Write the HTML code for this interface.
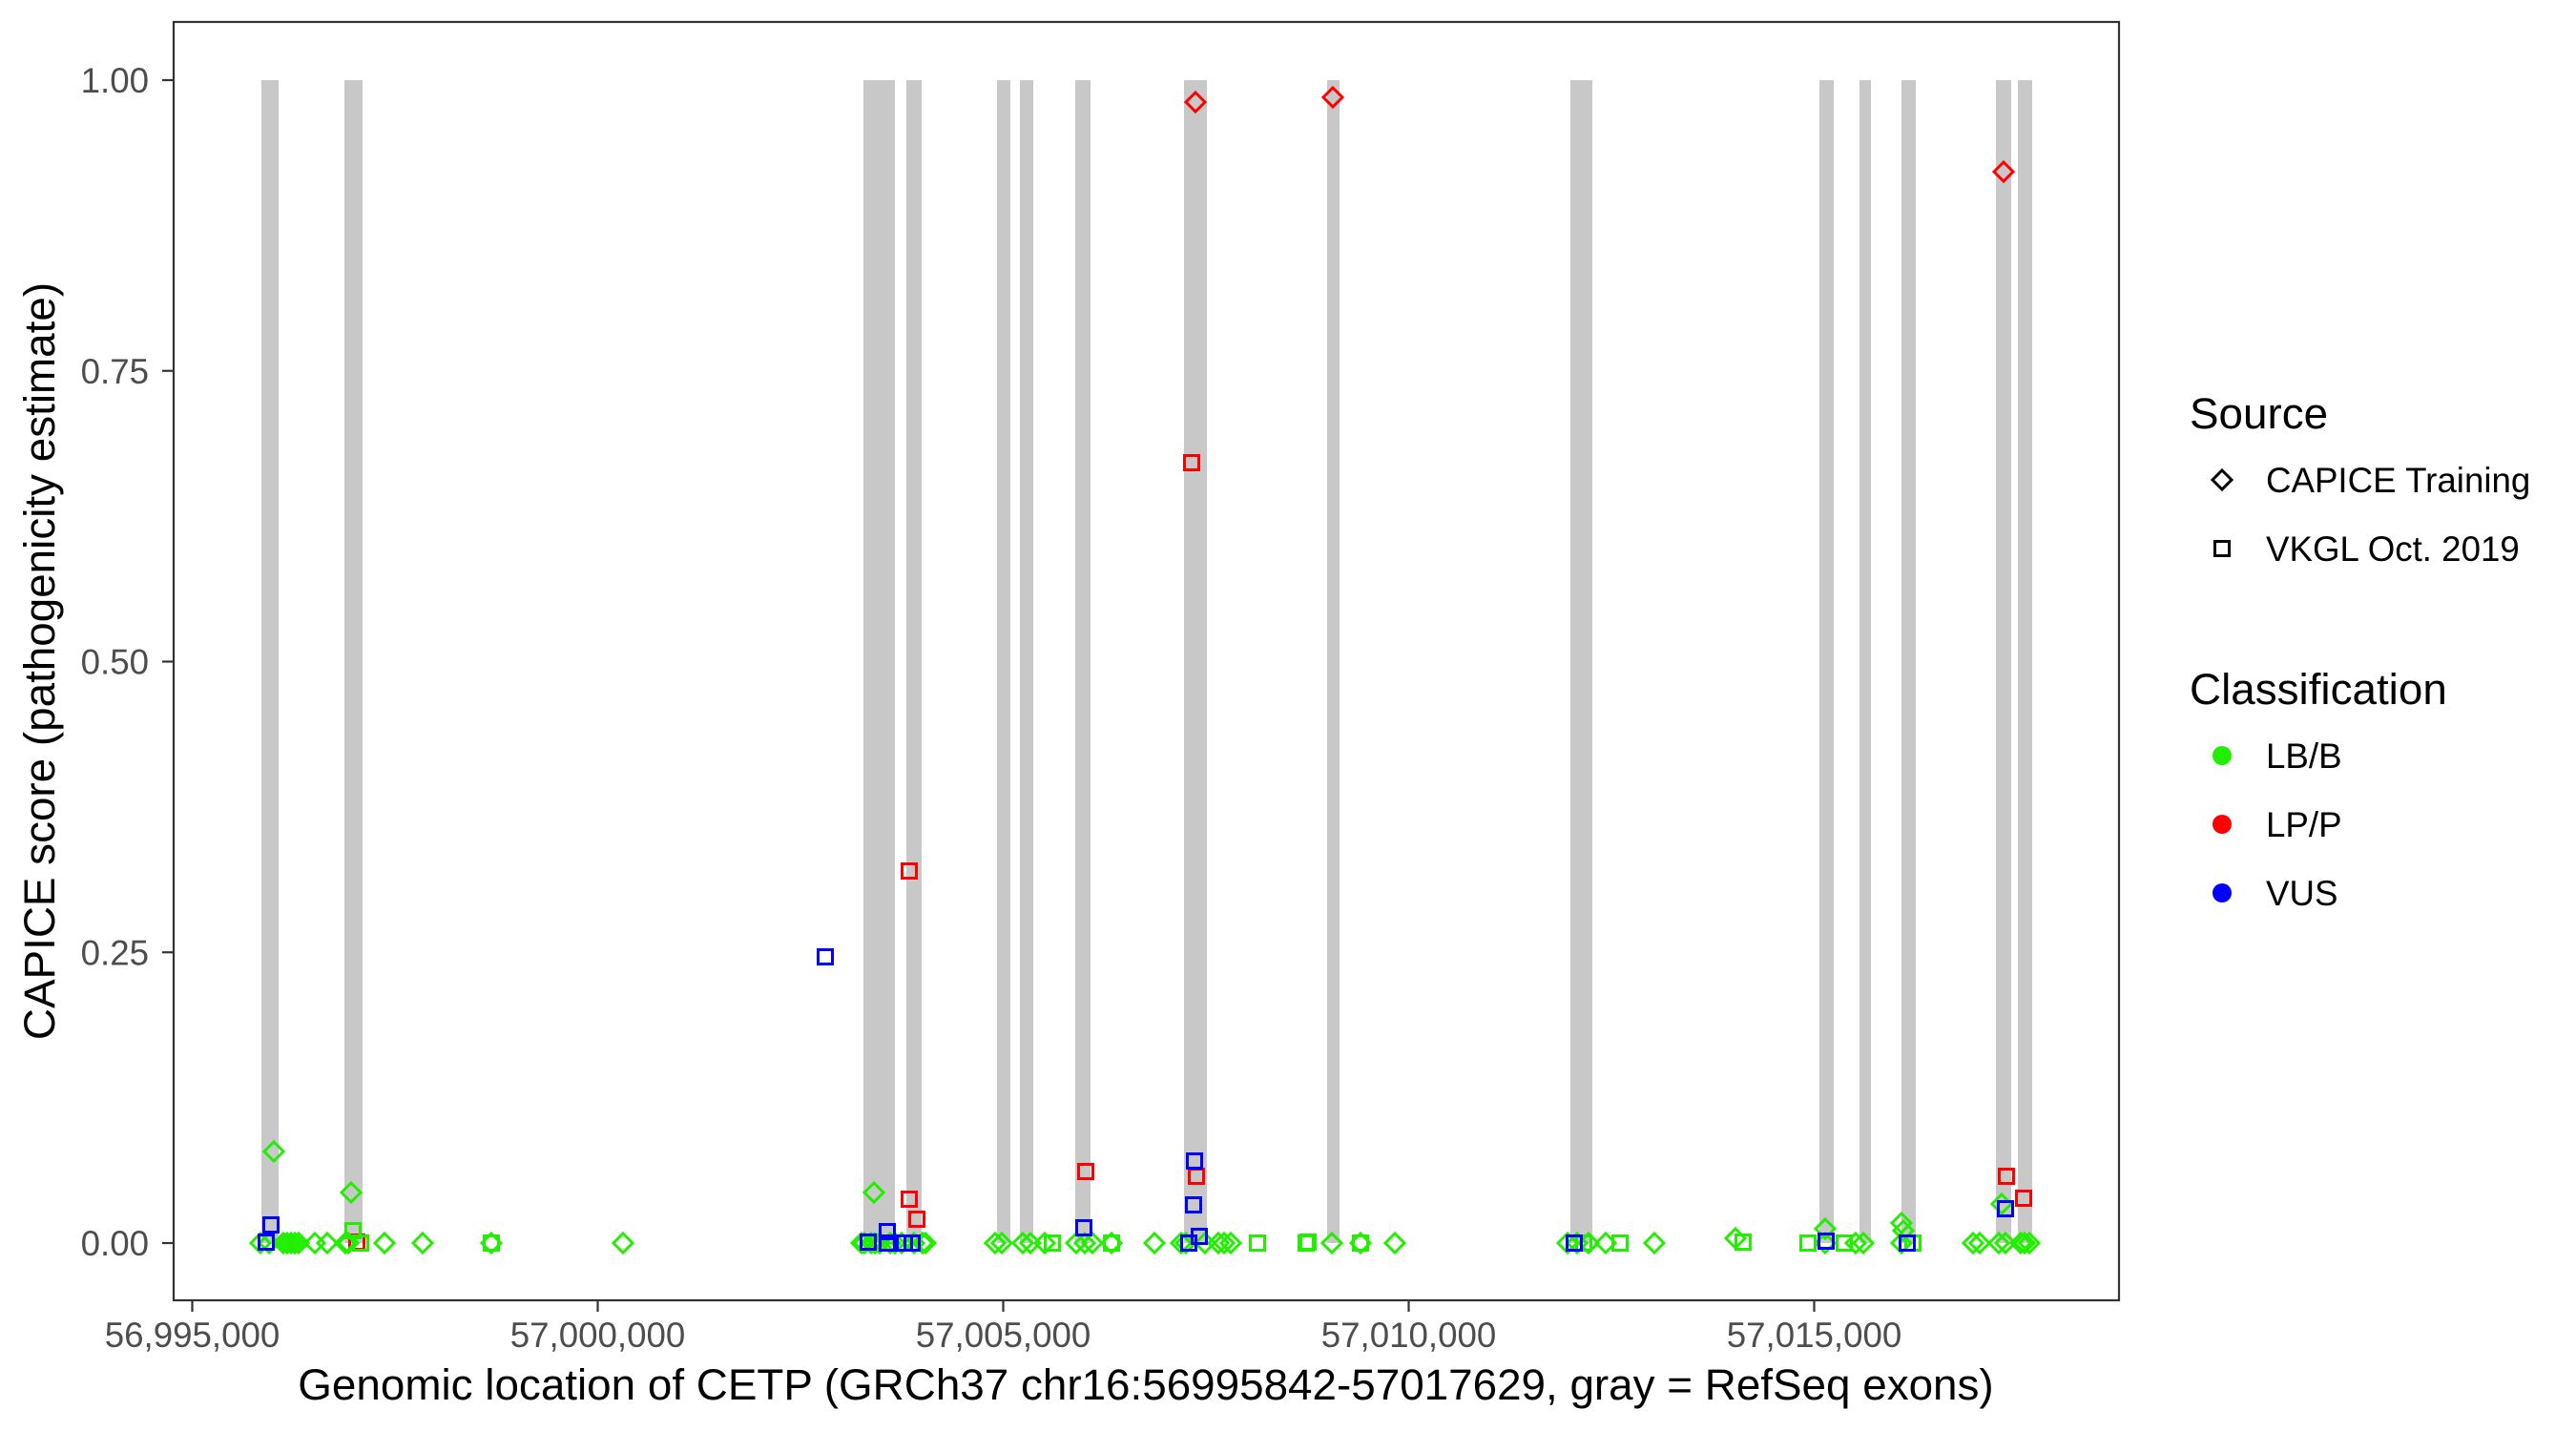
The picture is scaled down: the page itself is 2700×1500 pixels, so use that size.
<!DOCTYPE html>
<html>
<head>
<meta charset="utf-8">
<style>
  html,body{margin:0;padding:0;background:#ffffff;}
  svg{display:block;}
  text{font-family:"Liberation Sans", Arial, sans-serif;}
</style>
</head>
<body>
<svg xmlns="http://www.w3.org/2000/svg" width="2700" height="1500" viewBox="0 0 2700 1500">
  <defs>
    <path id="dm" d="M0,-10 L10,0 L0,10 L-10,0 Z" fill="none" stroke-width="3"/>
    <rect id="sq" x="-7.5" y="-7.5" width="15" height="15" fill="none" stroke-width="3"/>
  </defs>
  <rect x="0" y="0" width="2700" height="1500" fill="#ffffff"/>

  <g fill="#c8c8c8">
    <rect x="274" y="84" width="18" height="1219"/>
    <rect x="361" y="84" width="19" height="1219"/>
    <rect x="905" y="84" width="33" height="1219"/>
    <rect x="950" y="84" width="16" height="1219"/>
    <rect x="1045" y="84" width="14" height="1219"/>
    <rect x="1069" y="84" width="14" height="1219"/>
    <rect x="1127" y="84" width="16" height="1219"/>
    <rect x="1241" y="84" width="24" height="1219"/>
    <rect x="1391" y="84" width="13" height="1219"/>
    <rect x="1646" y="84" width="23" height="1219"/>
    <rect x="1907" y="84" width="15" height="1219"/>
    <rect x="1949" y="84" width="12" height="1219"/>
    <rect x="1993" y="84" width="15" height="1219"/>
    <rect x="2092" y="84" width="16" height="1219"/>
    <rect x="2115" y="84" width="15" height="1219"/>
  </g>

  <g stroke="#ff0000">
    <use href="#sq" x="374" y="1302"/>
  </g>

  <g stroke="#22ee00">
    <use href="#dm" x="287" y="1207"/>
    <use href="#dm" x="368" y="1250"/>
    <use href="#dm" x="273" y="1303"/>
    <use href="#dm" x="282" y="1303"/>
    <use href="#dm" x="297" y="1303"/>
    <use href="#dm" x="301" y="1303"/>
    <use href="#dm" x="305" y="1303"/>
    <use href="#dm" x="309" y="1303"/>
    <use href="#dm" x="313" y="1303"/>
    <use href="#dm" x="330" y="1303"/>
    <use href="#dm" x="343" y="1303"/>
    <use href="#dm" x="362" y="1303"/>
    <use href="#dm" x="365" y="1303"/>
    <use href="#dm" x="403" y="1303"/>
    <use href="#dm" x="443" y="1303"/>
    <use href="#dm" x="515" y="1303"/>
    <use href="#dm" x="653" y="1303"/>
    <use href="#dm" x="916" y="1250"/>
    <use href="#dm" x="903" y="1303"/>
    <use href="#dm" x="906" y="1303"/>
    <use href="#dm" x="913" y="1303"/>
    <use href="#dm" x="917" y="1303"/>
    <use href="#dm" x="922" y="1303"/>
    <use href="#dm" x="933" y="1303"/>
    <use href="#dm" x="938" y="1303"/>
    <use href="#dm" x="945" y="1303"/>
    <use href="#dm" x="958" y="1303"/>
    <use href="#dm" x="967" y="1303"/>
    <use href="#dm" x="970" y="1303"/>
    <use href="#dm" x="1043" y="1303"/>
    <use href="#dm" x="1050" y="1303"/>
    <use href="#dm" x="1072" y="1303"/>
    <use href="#dm" x="1080" y="1303"/>
    <use href="#dm" x="1095" y="1303"/>
    <use href="#dm" x="1128" y="1303"/>
    <use href="#dm" x="1137" y="1303"/>
    <use href="#dm" x="1145" y="1303"/>
    <use href="#dm" x="1165" y="1303"/>
    <use href="#dm" x="1210" y="1303"/>
    <use href="#dm" x="1238" y="1303"/>
    <use href="#dm" x="1243" y="1303"/>
    <use href="#dm" x="1263" y="1303"/>
    <use href="#dm" x="1277" y="1303"/>
    <use href="#dm" x="1283" y="1303"/>
    <use href="#dm" x="1290" y="1303"/>
    <use href="#dm" x="1396" y="1303"/>
    <use href="#dm" x="1426" y="1303"/>
    <use href="#dm" x="1462" y="1303"/>
    <use href="#dm" x="1643" y="1303"/>
    <use href="#dm" x="1653" y="1303"/>
    <use href="#dm" x="1665" y="1303"/>
    <use href="#dm" x="1683" y="1303"/>
    <use href="#dm" x="1734" y="1303"/>
    <use href="#dm" x="1819" y="1298"/>
    <use href="#dm" x="1913" y="1288"/>
    <use href="#dm" x="1913" y="1303"/>
    <use href="#dm" x="1945" y="1303"/>
    <use href="#dm" x="1953" y="1303"/>
    <use href="#dm" x="1993" y="1282"/>
    <use href="#dm" x="1995" y="1290"/>
    <use href="#dm" x="1993" y="1303"/>
    <use href="#dm" x="2068" y="1303"/>
    <use href="#dm" x="2075" y="1303"/>
    <use href="#dm" x="2095" y="1303"/>
    <use href="#dm" x="2102" y="1303"/>
    <use href="#dm" x="2118" y="1303"/>
    <use href="#dm" x="2122" y="1303"/>
    <use href="#dm" x="2127" y="1303"/>
    <use href="#dm" x="2098" y="1262"/>
  </g>

  <g stroke="#22ee00">
    <use href="#sq" x="370" y="1290"/>
    <use href="#sq" x="378" y="1303"/>
    <use href="#sq" x="515" y="1303"/>
    <use href="#sq" x="1103" y="1303"/>
    <use href="#sq" x="1165" y="1303"/>
    <use href="#sq" x="1318" y="1303"/>
    <use href="#sq" x="1369" y="1303"/>
    <use href="#sq" x="1371" y="1302"/>
    <use href="#sq" x="1426" y="1303"/>
    <use href="#sq" x="1660" y="1303"/>
    <use href="#sq" x="1698" y="1303"/>
    <use href="#sq" x="1827" y="1302"/>
    <use href="#sq" x="1895" y="1303"/>
    <use href="#sq" x="1933" y="1303"/>
    <use href="#sq" x="2005" y="1303"/>
  </g>

  <g stroke="#ff0000">
    <use href="#sq" x="953" y="1257"/>
    <use href="#sq" x="961" y="1278"/>
    <use href="#sq" x="953" y="913"/>
    <use href="#sq" x="1138" y="1228"/>
    <use href="#sq" x="1249" y="485"/>
    <use href="#sq" x="1254" y="1233"/>
    <use href="#sq" x="2103" y="1233"/>
    <use href="#sq" x="2121" y="1256"/>
    <use href="#dm" x="1253" y="107"/>
    <use href="#dm" x="1397" y="102"/>
    <use href="#dm" x="2100" y="180"/>
  </g>

  <g stroke="#0000ff">
    <use href="#sq" x="284" y="1284"/>
    <use href="#sq" x="279" y="1302"/>
    <use href="#sq" x="865" y="1003"/>
    <use href="#sq" x="930" y="1291"/>
    <use href="#sq" x="910" y="1302"/>
    <use href="#sq" x="930" y="1303"/>
    <use href="#sq" x="948" y="1303"/>
    <use href="#sq" x="956" y="1303"/>
    <use href="#sq" x="1136" y="1287"/>
    <use href="#sq" x="1252" y="1217"/>
    <use href="#sq" x="1251" y="1263"/>
    <use href="#sq" x="1257" y="1296"/>
    <use href="#sq" x="1246" y="1303"/>
    <use href="#sq" x="1650" y="1303"/>
    <use href="#sq" x="1914" y="1301"/>
    <use href="#sq" x="1999" y="1303"/>
    <use href="#sq" x="2102" y="1267"/>
  </g>

  <rect x="182" y="23" width="2039" height="1340" fill="none" stroke="#333333" stroke-width="2.2"/>

  <g stroke="#333333" stroke-width="2.2">
    <line x1="170" y1="84" x2="182" y2="84"/>
    <line x1="170" y1="388.75" x2="182" y2="388.75"/>
    <line x1="170" y1="693.5" x2="182" y2="693.5"/>
    <line x1="170" y1="998.25" x2="182" y2="998.25"/>
    <line x1="170" y1="1303" x2="182" y2="1303"/>
    <line x1="201.5" y1="1363" x2="201.5" y2="1375"/>
    <line x1="626.5" y1="1363" x2="626.5" y2="1375"/>
    <line x1="1051.5" y1="1363" x2="1051.5" y2="1375"/>
    <line x1="1476.5" y1="1363" x2="1476.5" y2="1375"/>
    <line x1="1901.5" y1="1363" x2="1901.5" y2="1375"/>
  </g>

  <g font-size="36.7" fill="#4d4d4d" text-anchor="end">
    <text x="156" y="97">1.00</text>
    <text x="156" y="401.75">0.75</text>
    <text x="156" y="706.5">0.50</text>
    <text x="156" y="1011.25">0.25</text>
    <text x="156" y="1316">0.00</text>
  </g>
  <g font-size="36.7" fill="#4d4d4d" text-anchor="middle">
    <text x="201.5" y="1412">56,995,000</text>
    <text x="626.5" y="1412">57,000,000</text>
    <text x="1051.5" y="1412">57,005,000</text>
    <text x="1476.5" y="1412">57,010,000</text>
    <text x="1901.5" y="1412">57,015,000</text>
  </g>

  <text x="1201" y="1467" font-size="45.8" fill="#000000" text-anchor="middle">Genomic location of CETP (GRCh37 chr16:56995842-57017629, gray = RefSeq exons)</text>
  <text transform="translate(57,693) rotate(-90)" font-size="45.8" fill="#000000" text-anchor="middle">CAPICE score (pathogenicity estimate)</text>

  <text x="2295" y="449" font-size="45.8" fill="#000000">Source</text>
  <use href="#dm" x="2329" y="503" stroke="#000000"/>
  <text x="2375" y="516" font-size="36.7" fill="#000000">CAPICE Training</text>
  <use href="#sq" x="2329" y="575" stroke="#000000"/>
  <text x="2375" y="588" font-size="36.7" fill="#000000">VKGL Oct. 2019</text>

  <text x="2295" y="738" font-size="45.8" fill="#000000">Classification</text>
  <circle cx="2329" cy="792" r="10" fill="#22ee00"/>
  <text x="2375" y="805" font-size="36.7" fill="#000000">LB/B</text>
  <circle cx="2329" cy="864" r="10" fill="#ff0000"/>
  <text x="2375" y="877" font-size="36.7" fill="#000000">LP/P</text>
  <circle cx="2329" cy="936" r="10" fill="#0000ff"/>
  <text x="2375" y="949" font-size="36.7" fill="#000000">VUS</text>
</svg>
</body>
</html>
